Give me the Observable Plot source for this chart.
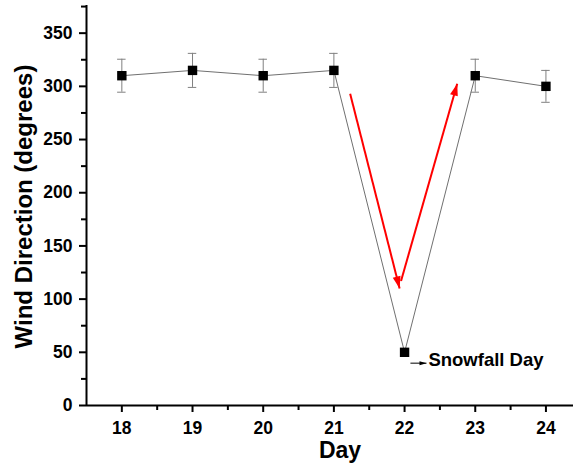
<!DOCTYPE html>
<html>
<head>
<meta charset="utf-8">
<script src="https://cdn.jsdelivr.net/npm/d3@7"></script>
<script src="https://cdn.jsdelivr.net/npm/@observablehq/plot@0.6"></script>
<style>
  html, body { margin: 0; padding: 0; background: #fff; }
  #chart { width: 573px; height: 465px; }
</style>
</head>
<body>
<div id="chart"></div>
<script>
// ---- data ----
const days = [18, 19, 20, 21, 22, 23, 24];
const direction = [310, 315, 310, 315, 50, 310, 300];
const errorBar = [15.5, 16, 15.5, 16, 0, 15.5, 15];

const yTicks = [0, 50, 100, 150, 200, 250, 300, 350];
const yMinorTicks = [25, 75, 125, 175, 225, 275, 325, 375];
const xTicks = [18, 19, 20, 21, 22, 23, 24];
const xMinorTicks = [18.5, 19.5, 20.5, 21.5, 22.5, 23.5];

// red trend arrows (start -> end, in data units)
const redX1 = [21.23, 21.95];
const redY1 = [293, 117];
const redX2 = [21.93, 22.745];
const redY2 = [110, 302.5];

// annotation
const noteText = ["Snowfall Day"];
const noteArrowX1 = [22.083];
const noteArrowX2 = [22.31];
const noteArrowY = [39.8];
const noteX = [22.337];
const noteY = [36.7];

const xLabel = "Day";
const yLabel = "Wind Direction (degrees)";

// ---- tables ----
const points = days.map((d, i) => ({day: d, dir: direction[i], err: errorBar[i]}));
const bars = points.filter(p => p.err > 0);
const redArrows = redX1.map((x, i) => ({x1: x, y1: redY1[i], x2: redX2[i], y2: redY2[i]}));
const noteArrows = noteArrowX1.map((x, i) => ({x1: x, x2: noteArrowX2[i], y: noteArrowY[i]}));
const notes = noteText.map((t, i) => ({t, x: noteX[i], y: noteY[i]}));

// filled arrowhead drawn from the link's scaled endpoints
function arrowHead(len, wid, color) {
  return function (index, scales, values, dims, context, next) {
    const g = next(index, scales, values, dims, context);
    const X1 = values.x1, Y1 = values.y1, X2 = values.x2, Y2 = values.y2;
    const sel = d3.select(g);
    for (const i of index) {
      const dx = X2[i] - X1[i], dy = Y2[i] - Y1[i];
      const L = Math.hypot(dx, dy);
      const ux = dx / L, uy = dy / L;
      const tx = X2[i], ty = Y2[i];
      const bx = tx - len * ux, by = ty - len * uy;
      const px = -uy * wid / 2, py = ux * wid / 2;
      sel.append("path")
        .attr("d", `M${tx},${ty}L${bx + px},${by + py}L${bx - px},${by - py}Z`)
        .attr("fill", color)
        .attr("stroke", "none");
    }
    return g;
  };
}

const chart = Plot.plot({
  width: 573,
  height: 465,
  marginLeft: 86,
  marginRight: 0,
  marginTop: 5,
  marginBottom: 60,
  style: {fontFamily: "'Liberation Sans', Arial, sans-serif", fontWeight: "bold", background: "#fff", color: "#000", overflow: "visible"},
  x: {domain: [17.5, 24.39]},
  y: {domain: [0, 376]},
  marks: [
    Plot.axisY(yTicks, {tickSize: 7, tickPadding: 7, fontSize: 17.5, strokeWidth: 2, label: null}),
    Plot.axisY(yMinorTicks.filter(v => v <= 376), {tickSize: 5, tickFormat: () => "", strokeWidth: 2, label: null}),
    Plot.axisX(xTicks, {tickSize: 7, tickPadding: 9, fontSize: 17.5, strokeWidth: 2, label: null}),
    Plot.axisX(xMinorTicks, {tickSize: 5, tickFormat: () => "", strokeWidth: 2, label: null}),
    Plot.ruleX([17.5], {stroke: "#000", strokeWidth: 2}),
    Plot.ruleY([0], {stroke: "#000", strokeWidth: 2}),
    Plot.line(points, {x: "day", y: "dir", stroke: "#707070", strokeWidth: 1}),
    Plot.ruleX(bars, {x: "day", y1: d => d.dir - d.err, y2: d => d.dir + d.err, stroke: "#808080", strokeWidth: 1}),
    Plot.ruleY(bars, {y: d => d.dir + d.err, x1: d => d.day - 0.06, x2: d => d.day + 0.06, stroke: "#808080", strokeWidth: 1}),
    Plot.ruleY(bars, {y: d => d.dir - d.err, x1: d => d.day - 0.06, x2: d => d.day + 0.06, stroke: "#808080", strokeWidth: 1}),
    Plot.dot(points, {x: "day", y: "dir", symbol: "square", r: 5.3, fill: "#000", stroke: "none"}),
    Plot.link(redArrows, {x1: "x1", y1: "y1", x2: "x2", y2: "y2", stroke: "#ff0000", strokeWidth: 2, render: arrowHead(12, 8, "#ff0000")}),
    Plot.link(noteArrows, {x1: "x1", y1: "y", x2: "x2", y2: "y", stroke: "#000", strokeWidth: 1, render: arrowHead(7, 4, "#000")}),
    Plot.text(notes, {x: "x", y: "y", text: "t", textAnchor: "start", lineAnchor: "bottom", fontSize: 18.5, fontWeight: "bold", fill: "#000"}),
    Plot.text([xLabel], {frameAnchor: "bottom", textAnchor: "middle", dx: 10, dy: 36, lineAnchor: "top", fontSize: 23, fontWeight: "bold", fill: "#000"}),
    Plot.text([yLabel], {frameAnchor: "left", textAnchor: "middle", rotate: -90, dx: -62, dy: 1, lineAnchor: "middle", fontSize: 24, fontWeight: "bold", fill: "#000"})
  ]
});
document.getElementById("chart").appendChild(chart);
</script>
</body>
</html>
